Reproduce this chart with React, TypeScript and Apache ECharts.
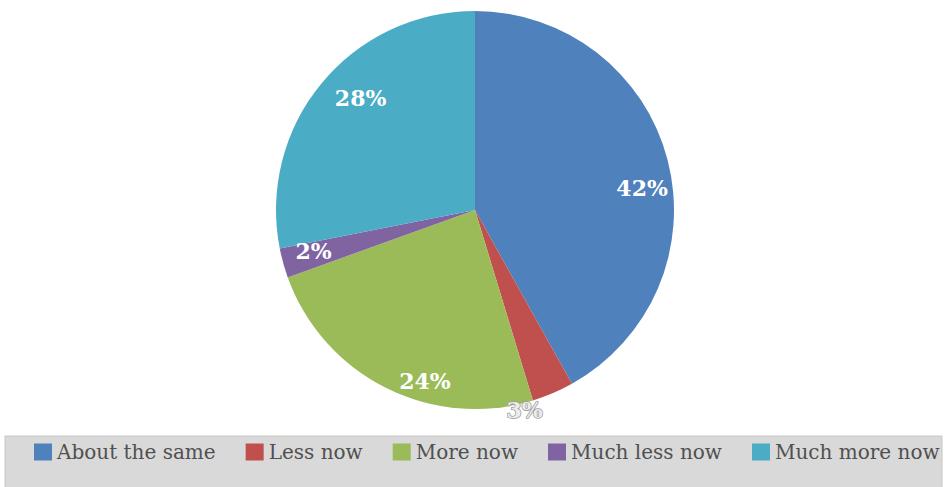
import React, { useEffect, useRef } from "react";
import * as echarts from "echarts";

const categories = ["About the same", "Less now", "More now", "Much less now", "Much more now"];
const shares = [41.9, 3.4, 24.2, 2.4, 28.1];
const colors = ["#4F81BD", "#C0504D", "#9BBB59", "#8064A2", "#4BACC6"];
// small label nudges (px) to mimic the spreadsheet's "best fit" placement
const labelNudge: [number, number][] = [[5, 20], [-16, 46], [25, 21], [0, -4], [15, -6]];

export default function App() {
  const ref = useRef<HTMLDivElement>(null);
  useEffect(() => {
    if (!ref.current) return;
    const chart = echarts.init(ref.current, undefined, { renderer: "svg" });
    const labelFont = "'DejaVu Serif', 'Liberation Serif', serif";
    const pieData = categories.map((name, i) => ({ name, value: shares[i] }));
    chart.setOption({
      animation: false,
      backgroundColor: "#ffffff",
      color: colors,
      graphic: [
        {
          type: "rect",
          z: 0,
          shape: { x: 5, y: 436, width: 937, height: 60 },
          style: { fill: "#d9d9d9", stroke: "#c6c6c6", lineWidth: 1 },
        },
      ],
      legend: {
        z: 10,
        left: 29,
        top: 437,
        orient: "horizontal",
        itemWidth: 18,
        itemHeight: 17,
        itemGap: 30,
        icon: "rect",
        data: categories,
        textStyle: {
          fontFamily: labelFont,
          fontSize: 20,
          color: "#505050",
          padding: [2, 0, 0, 0],
        },
      },
      series: [
        {
          type: "pie",
          center: [475, 210],
          radius: [0, 199],
          startAngle: 90,
          clockwise: true,
          itemStyle: { borderWidth: 0 },
          label: { show: false },
          labelLine: { show: false },
          data: pieData,
        },
        {
          // transparent ring used only to place the labels near the rim
          type: "pie",
          center: [475, 210],
          radius: [130, 199],
          startAngle: 90,
          clockwise: true,
          silent: true,
          avoidLabelOverlap: false,
          itemStyle: { color: "rgba(0,0,0,0)", borderWidth: 0 },
          label: {
            show: true,
            position: "inside",
            formatter: (p: any) => `${Math.round(p.value)}%`,
            color: "#ffffff",
            fontFamily: labelFont,
            fontWeight: "bold",
            fontSize: 22,
          },
          labelLayout: (params: any) => {
            const n = labelNudge[params.dataIndex] || [0, 0];
            return { dx: n[0], dy: n[1] };
          },
          labelLine: { show: false },
          data: categories.map((name, i) => ({
            name,
            value: shares[i],
            label:
              i === 1
                ? { color: "#ececec", textBorderColor: "#9a9a9a", textBorderWidth: 1.5 }
                : undefined,
          })),
        },
      ],
    });
    return () => chart.dispose();
  }, []);
  return (
    <div
      ref={ref}
      style={{ position: "fixed", left: 0, top: 0, width: 946, height: 487 }}
    />
  );
}
